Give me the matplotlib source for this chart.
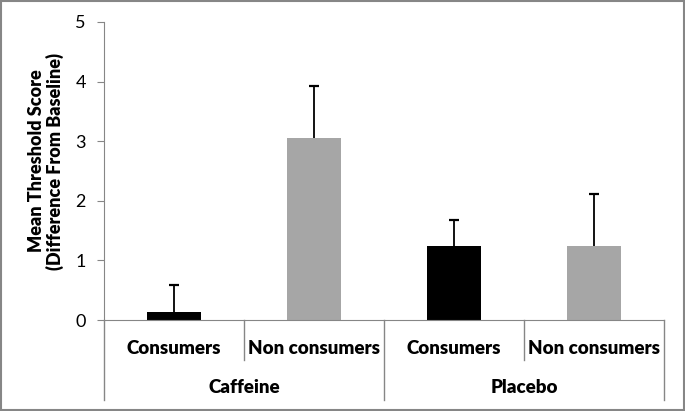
import matplotlib.pyplot as plt
import numpy as np

groups = ["Caffeine", "Placebo"]
subgroups = ["Consumers", "Non consumers"]
means = [0.13, 3.06, 1.24, 1.25]
errors = [0.45, 0.87, 0.43, 0.86]
colors = ["#000000", "#a6a6a6", "#000000", "#a6a6a6"]

plt.rcParams['font.family'] = ['Lato', 'DejaVu Sans']

W, H = 685, 411
fig = plt.figure(figsize=(W / 100, H / 100), dpi=100)

left, right, top, zero = 104, 664, 22, 320
ax = fig.add_axes([left / W, 1 - zero / H, (right - left) / W, (zero - top) / H])

x = np.arange(len(means))
m = np.array(means)
e = np.array(errors)
ax.bar(x, m, width=0.39, color=colors, zorder=2)
# upper error bars only
ax.vlines(x, m, m + e, color='black', lw=1.3, zorder=3)
ax.hlines(m + e, x - 0.033, x + 0.033, color='black', lw=1.6, zorder=3)

ax.set_xlim(-0.5, len(means) - 0.5)
ax.set_ylim(0, 5)
ax.set_yticks(range(6))
ax.tick_params(axis='y', length=5, color='#868686', labelsize=13, pad=8)
ax.set_xticks([])
for s in ["top", "right"]:
    ax.spines[s].set_visible(False)
for s in ["left", "bottom"]:
    ax.spines[s].set_color('#868686')

# category table below the axis
gray = '#868686'
unit = 5 / (zero - top)
sub_bottom = -(360 - zero) * unit
grp_bottom = -(400 - zero) * unit
for xv in [-0.5, 1.5, 3.5]:
    ax.plot([xv, xv], [0, grp_bottom], color=gray, lw=1, clip_on=False)
for xv in [0.5, 2.5]:
    ax.plot([xv, xv], [0, sub_bottom], color=gray, lw=1, clip_on=False)

sub_y = -(348 - zero) * unit
grp_y = -(387 - zero) * unit
for i in range(len(means)):
    ax.text(i, sub_y, subgroups[i % 2], ha='center', va='center',
            fontsize=13.5, fontweight='heavy', clip_on=False)
for j, g in enumerate(groups):
    ax.text(2 * j + 0.5, grp_y, g, ha='center', va='center',
            fontsize=13.5, fontweight='heavy', clip_on=False)

fig.text(46 / W, 1 - 161 / H, "Mean Threshold Score\n(Difference From Baseline)",
         rotation=90, ha='center', va='center', fontsize=13, fontweight='heavy',
         linespacing=1.05)

fig.patches.append(plt.Rectangle((0.001, 0.002), 0.997, 0.995, transform=fig.transFigure,
                                 fill=False, edgecolor='#868686', lw=1.5))

fig.savefig("out.png", dpi=100)
